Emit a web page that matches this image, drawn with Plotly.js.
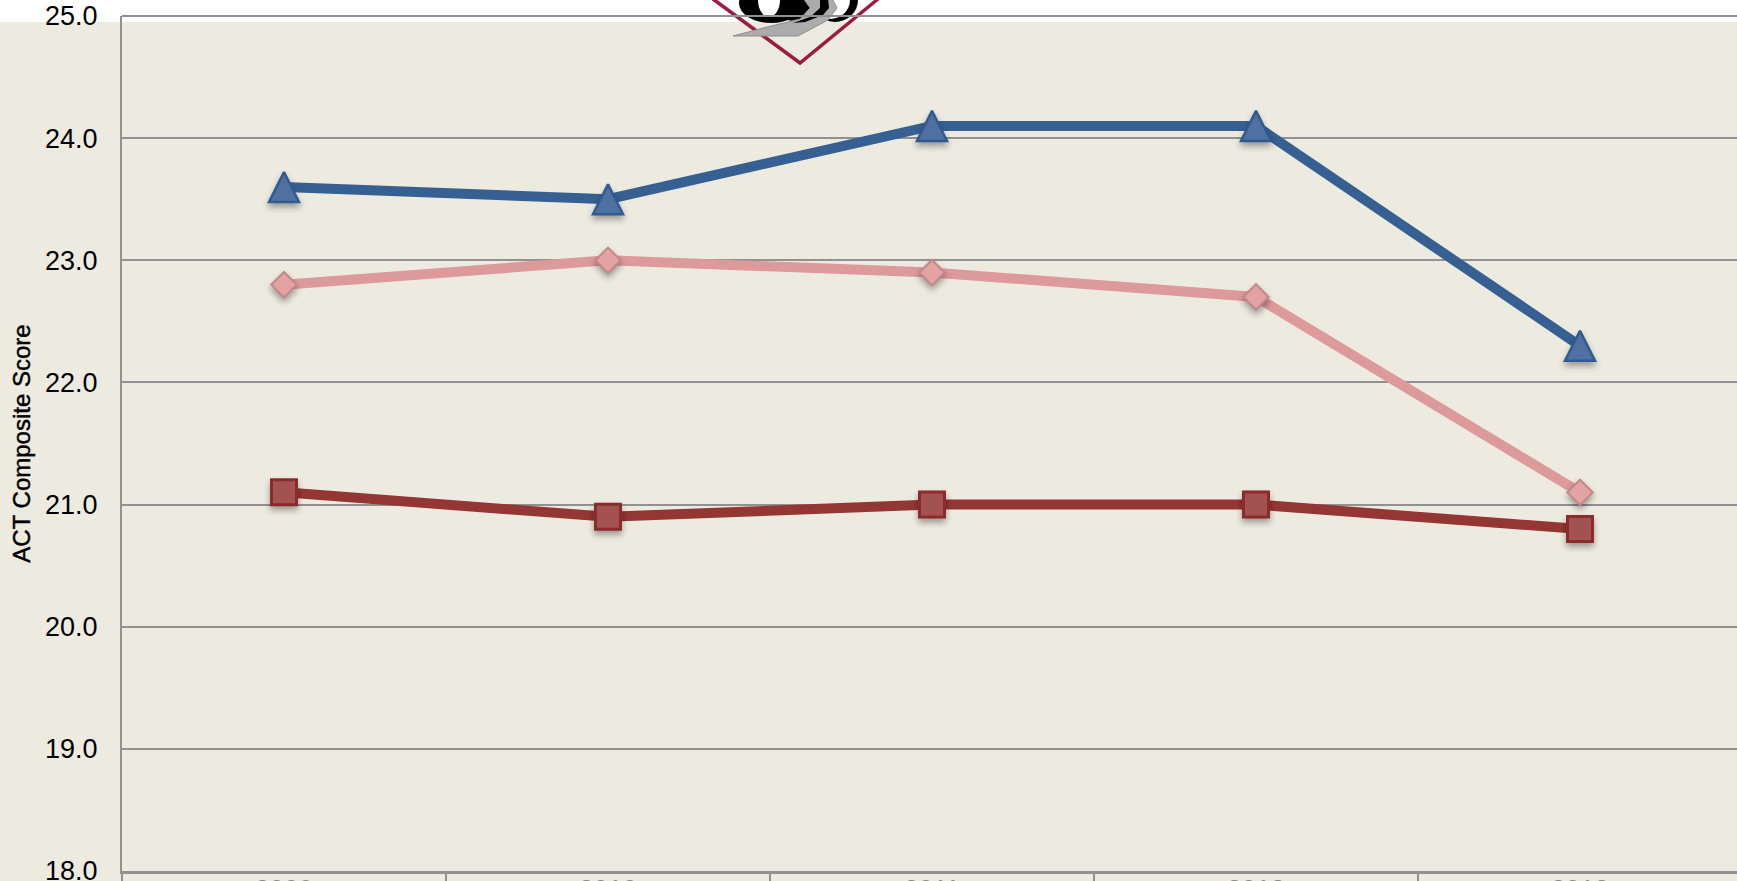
<!DOCTYPE html>
<html>
<head>
<meta charset="utf-8">
<script src="https://cdn.plot.ly/plotly-3.0.1.min.js"></script>
<style>
html,body{margin:0;padding:0;background:#fff;overflow:hidden}
#chart{width:1737px;height:881px}
.scatterlayer .points path{filter:drop-shadow(0 4px 3px rgba(0,0,0,.35))}
.ytitle{stroke:#000;stroke-width:.45px}
</style>
</head>
<body>
<div id="chart"></div>
<script>
const categories = ['2009','2010','2011','2012','2013'];
const blueValues = [23.6,23.5,24.1,24.1,22.3];
const pinkValues = [22.8,23.0,22.9,22.7,21.1];
const redValues  = [21.1,20.9,21.0,21.0,20.8];
const yTicks = [18,19,20,21,22,23,24,25];

const L = 122, R = 1737, T = 16, B = 871;
const W = 1737, H = 881;
const xp = p => (p - L) / (R - L);
const yp = p => (B - p) / (B - T);
const rect = (x0,y0,x1,y1,fill) => ({type:'rect',xref:'paper',yref:'paper',layer:'below',
  x0:xp(x0),x1:xp(x1),y0:yp(y1),y1:yp(y0),fillcolor:fill,line:{width:0}});
const ell = (cx,cy,rx,ry,fill) => ({type:'circle',xref:'paper',yref:'paper',layer:'below',
  x0:xp(cx-rx),x1:xp(cx+rx),y0:yp(cy+ry),y1:yp(cy-ry),fillcolor:fill,line:{width:0}});
const poly = (pts,fill,line) => ({type:'path',xref:'paper',yref:'paper',layer:'below',
  path:pts.map((q,i)=>(i?'L':'M')+xp(q[0])+','+yp(q[1])).join(' ')+(fill?' Z':''),
  fillcolor:fill||'rgba(0,0,0,0)',line:line||{width:0}});

const shapes = [
  rect(0,22,W,H,'#edebe0'),
  poly([[713,-1],[800,63],[878,-1]],null,{color:'#9c1c3f',width:3.5}),
  ell(835,0,23,22,'#000'),
  ell(830,0,20,19,'#fff'),
  ell(800,0,30,22,'#000'),
  ell(771,3,32,20,'#000'),
  ell(769,0,11,17,'#fff'),
  poly([[733,36],[798,36],[828,20],[837,8],[832,-2],[803,-2],[810,8],[800,19],[767,27]],'#acacac',{color:'#8f8f8f',width:1}),
  poly([[820,-2],[828,-2],[829,8],[823,15],[805,22],[793,23],[810,17],[820,8]],'#000'),
  {type:'line',xref:'paper',yref:'paper',x0:0,x1:1,y0:1,y1:1,line:{color:'#919191',width:2},layer:'above'}
];

const series = (y,lineColor,symbol,size,fill,edge,edgeW) => ({
  type:'scatter',mode:'lines+markers',x:categories,y:y,cliponaxis:false,
  line:{color:lineColor,width:10},
  marker:{symbol:symbol,size:size,color:fill,line:{color:edge,width:edgeW}},
  hoverinfo:'x+y'
});

const data = [
  series(redValues,'#943634','square',25,'#a25251','#8c2b2b',3),
  series(pinkValues,'#dd9a9b','diamond',19.5,'#e4a3a3','#c4868b',2),
  series(blueValues,'#376092','triangle-up',27,'#4f71a1','#2f5b90',2.5)
];

const layout = {
  width:W,height:H,showlegend:false,
  paper_bgcolor:'#ffffff',plot_bgcolor:'rgba(0,0,0,0)',
  margin:{l:L,r:W-R,t:T,b:H-B,pad:0,autoexpand:false},
  font:{family:'"Liberation Sans",Arial,sans-serif',color:'#000'},
  shapes:shapes,
  xaxis:{type:'category',range:[-0.5,-0.5+(R-L)/324],tickson:'boundaries',
    ticks:'outside',ticklen:12,tickwidth:2,tickcolor:'#919191',
    showline:true,linecolor:'#919191',linewidth:3,showgrid:false,zeroline:false,
    tickfont:{size:26,color:'#8c8c8c'},automargin:false,ticklabeloverflow:'allow',ticklabelstandoff:-7},
  yaxis:{range:[18,25],tickvals:yTicks,ticktext:yTicks.map(v=>v.toFixed(1)),
    ticks:'outside',ticklen:17,tickcolor:'rgba(0,0,0,0)',tickwidth:1,
    showline:true,linecolor:'#919191',linewidth:2,mirror:false,
    showgrid:true,gridcolor:'#919191',gridwidth:2,zeroline:false,
    tickfont:{size:27,color:'#000'},automargin:false,ticklabeloverflow:'allow',
    title:{text:'ACT Composite Score',standoff:8,
      font:{size:24,family:'"Liberation Sans",Arial,sans-serif',color:'#000'}}}
};

Plotly.newPlot('chart',data,layout,{displayModeBar:false,responsive:false}).then(()=>{
  // Reference triangles are taller than Plotly's symbol: same centre, equal width and height.
  document.querySelectorAll('.scatterlayer .trace:nth-child(3) .points path')
    .forEach(p=>p.setAttribute('d','M-15,15H15L0,-15Z'));
});
</script>
</body>
</html>
